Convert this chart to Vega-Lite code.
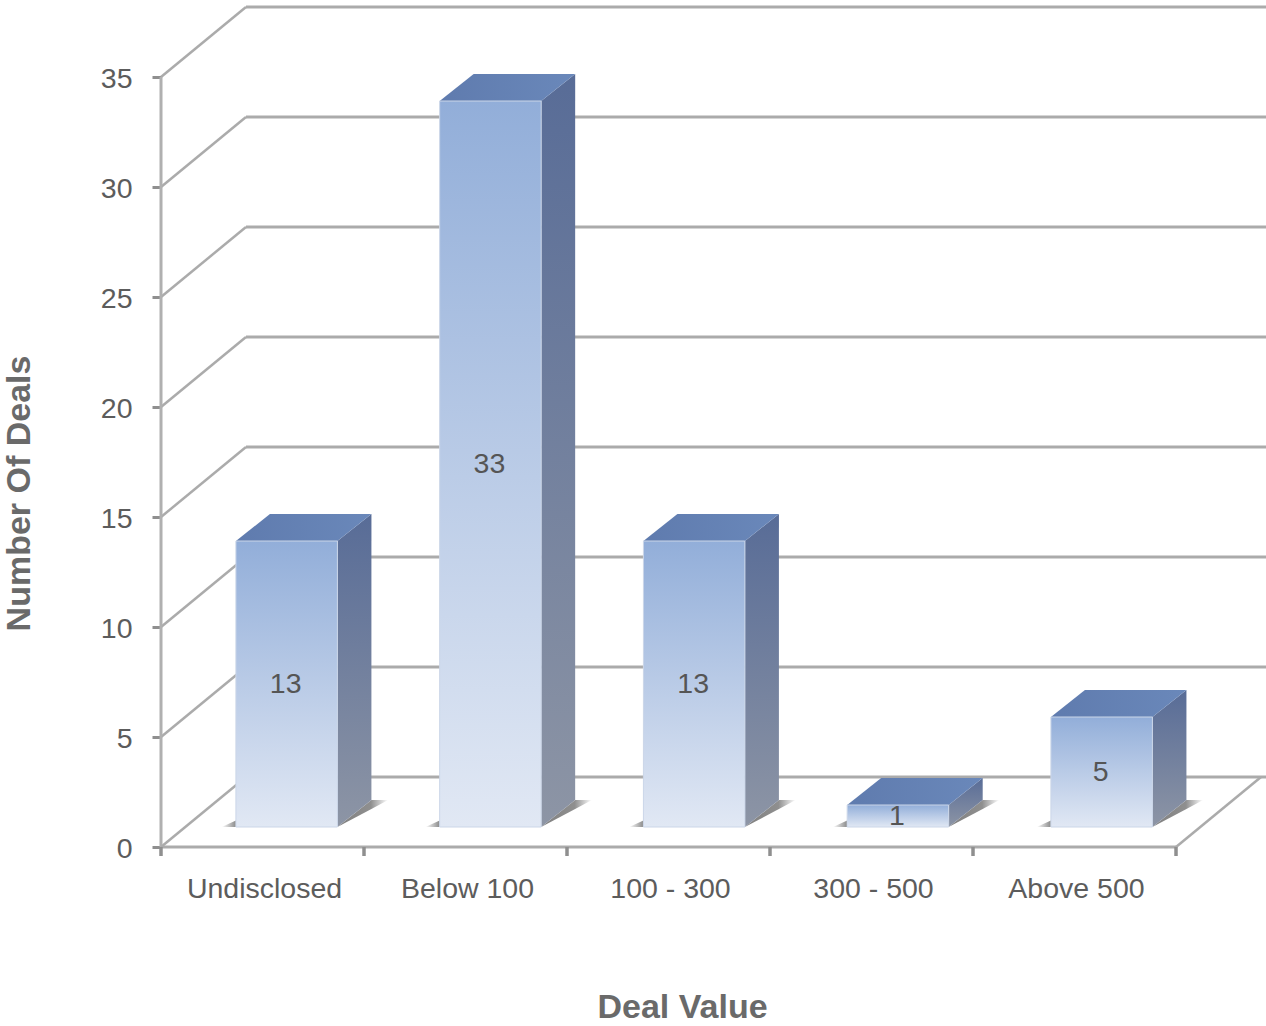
{
"$schema":"https://vega.github.io/schema/vega-lite/v6.json",
"width":1105,"height":840,
"autosize":{"type":"none"},
"padding":{"left":161,"top":7,"right":0,"bottom":179},
"background":"white",
"config":{"view":{"stroke":null},"font":"Liberation Sans"},
"datasets":{
"ticks":[{"v":0},{"v":5},{"v":10},{"v":15},{"v":20},{"v":25},{"v":30},{"v":35}],
"bars":[{"category":"Undisclosed","deals":13},{"category":"Below 100","deals":33},{"category":"100 - 300","deals":13},{"category":"300 - 500","deals":1},{"category":"Above 500","deals":5}]
},
"data":{"name":"bars"},
"transform":[
{"window":[{"op":"row_number","as":"idx"}]},
{"calculate":"(datum.idx-1)*1.0037+0.369","as":"x0"},
{"calculate":"datum.x0+0.5","as":"x1"},
{"calculate":"datum.deals+0.909","as":"top"},
{"calculate":"0.909","as":"base"}
],
"resolve":{"scale":{"x":"independent"},"axis":{"x":"independent"}},
"layer":[
{"data":{"name":"ticks"},"mark":{"type":"rule","color":"#ABABAB","strokeWidth":2.5,"y2Offset":-70},
"encoding":{"x":{"datum":0,"type":"quantitative","scale":{"domain":[0,5.4433]},"axis":null},"x2":{"datum":0.4187},
"y":{"field":"v","type":"quantitative","scale":{"domain":[0,38.1818],"nice":false,"zero":false},
"axis":{"values":[0,5,10,15,20,25,30,35],"grid":false,"domain":false,"tickColor":"#8F8F8F","tickWidth":3,"tickSize":9,"labelFontSize":28.5,"labelColor":"#5C5C5C","labelPadding":20,"labelBaseline":"middle","labelOffset":1.5,
"title":"Number Of Deals","titleFontSize":34,"titleFontWeight":"bold","titleColor":"#6A6A6A","titleX":-142,"titleY":486,"titleAnchor":"middle","titleBaseline":"middle","titleAngle":-90}},
"y2":{"field":"v"}}},
{"data":{"name":"ticks"},"mark":{"type":"rule","color":"#ABABAB","strokeWidth":3,"yOffset":-70,"y2Offset":-70},
"encoding":{"x":{"datum":0.4187,"type":"quantitative","scale":{"domain":[0,5.4433]},"axis":null},"x2":{"datum":5.4433},
"y":{"field":"v","type":"quantitative"},"y2":{"field":"v"}}},
{"data":{"values":[{"v":0,"w":35}]},"mark":{"type":"rule","color":"#B0B0B0","strokeWidth":3},
"encoding":{"x":{"datum":0,"type":"quantitative","scale":{"domain":[0,5.4433]},"axis":null},
"y":{"field":"v","type":"quantitative"},"y2":{"field":"w"}}},
{"data":{"values":[{"v":0}]},"mark":{"type":"rule","color":"#ABABAB","strokeWidth":3},
"encoding":{"x":{"datum":0,"type":"quantitative","scale":{"domain":[0,5.4433]},"axis":null},"x2":{"datum":5},
"y":{"field":"v","type":"quantitative"}}},
{"data":{"values":[{"v":0}]},"mark":{"type":"rule","color":"#ABABAB","strokeWidth":2.5,"y2Offset":-70},
"encoding":{"x":{"datum":5,"type":"quantitative","scale":{"domain":[0,5.4433]},"axis":null},"x2":{"datum":5.4187},
"y":{"field":"v","type":"quantitative"},"y2":{"field":"v"}}},
{"data":{"values":[{"p":0},{"p":1},{"p":2},{"p":3},{"p":4},{"p":5}]},"mark":{"type":"rule","color":"#8F8F8F","strokeWidth":3.5,"y2Offset":9},
"encoding":{"x":{"field":"p","type":"quantitative","scale":{"domain":[0,5.4433]},"axis":null},
"y":{"datum":0,"type":"quantitative"},"y2":{"datum":0}}},
{"transform":[{"calculate":"[0,1,2]","as":"t"},{"flatten":["t"]},
{"calculate":"datum.x1+[0,0.1675,0.25][datum.t]","as":"sx"},
{"calculate":"0.909+[0,1.227,1.227][datum.t]","as":"sy"},
{"calculate":"0.909+[0,0.82,1.227][datum.t]","as":"sy2"}],
"mark":{"type":"area","color":{"x1":0,"y1":0,"x2":1,"y2":0,"gradient":"linear","stops":[{"offset":0,"color":"#808080"},{"offset":0.66,"color":"#8F8F8F"},{"offset":1,"color":"#FFFFFF"}]}},
"encoding":{"detail":{"field":"category"},"x":{"field":"sx","type":"quantitative","scale":{"domain":[0,5.4433]},"axis":null},"y":{"field":"sy","type":"quantitative"},"y2":{"field":"sy2"}}},
{"transform":[{"calculate":"[0,1]","as":"t"},{"flatten":["t"]},
{"calculate":"datum.x0-0.07+0.07*datum.t","as":"sx"},
{"calculate":"0.909+0.3*datum.t","as":"sy"},
{"calculate":"0.909","as":"sy2"}],
"mark":{"type":"area","color":{"x1":0,"y1":0,"x2":1,"y2":0,"gradient":"linear","stops":[{"offset":0,"color":"#FFFFFF"},{"offset":1,"color":"#8A8A8A"}]}},
"encoding":{"detail":{"field":"category"},"x":{"field":"sx","type":"quantitative","scale":{"domain":[0,5.4433]},"axis":null},"y":{"field":"sy","type":"quantitative"},"y2":{"field":"sy2"}}},
{"transform":[{"calculate":"[0,1]","as":"t"},{"flatten":["t"]},
{"calculate":"datum.x1+0.1675*datum.t","as":"sx"},
{"calculate":"datum.top+1.227*datum.t","as":"sy"},
{"calculate":"0.909+1.227*datum.t","as":"sy2"}],
"mark":{"type":"area","color":{"x1":0,"y1":0,"x2":0,"y2":1,"gradient":"linear","stops":[{"offset":0,"color":"#586C97"},{"offset":1,"color":"#8D95A5"}]}},
"encoding":{"detail":{"field":"category"},"x":{"field":"sx","type":"quantitative","scale":{"domain":[0,5.4433]},"axis":null},"y":{"field":"sy","type":"quantitative"},"y2":{"field":"sy2"}}},
{"transform":[{"calculate":"[0,1,2,3]","as":"t"},{"flatten":["t"]},
{"calculate":"datum.x0+[0,0.1675,0.5,0.6675][datum.t]","as":"sx"},
{"calculate":"datum.top+[0,1.227,1.227,1.227][datum.t]","as":"sy"},
{"calculate":"datum.top+[0,0,0,1.227][datum.t]","as":"sy2"}],
"mark":{"type":"area","color":{"x1":0,"y1":0,"x2":1,"y2":0,"gradient":"linear","stops":[{"offset":0,"color":"#5F7BAE"},{"offset":1,"color":"#6A88BA"}]}},
"encoding":{"detail":{"field":"category"},"x":{"field":"sx","type":"quantitative","scale":{"domain":[0,5.4433]},"axis":null},"y":{"field":"sy","type":"quantitative"},"y2":{"field":"sy2"}}},
{"mark":{"type":"rect","stroke":"#CBD6E8","strokeWidth":1,"color":{"x1":0,"y1":0,"x2":0,"y2":1,"gradient":"linear","stops":[{"offset":0,"color":"#92AED9"},{"offset":1,"color":"#E1E8F4"}]}},
"encoding":{"x":{"field":"x0","type":"quantitative","scale":{"domain":[0,5.4433]},"axis":null},"x2":{"field":"x1"},
"y":{"field":"top","type":"quantitative"},"y2":{"field":"base"}}},
{"mark":{"type":"bar","opacity":0},
"encoding":{"x":{"field":"category","type":"nominal","sort":null,"scale":{"type":"band","domain":["Undisclosed","Below 100","100 - 300","300 - 500","Above 500"],"range":[0,1015],"paddingInner":0.5,"paddingOuter":0.25},
"axis":{"orient":"bottom","ticks":false,"domain":false,"grid":false,"labelAngle":0,"labelOffset":2,"labelFontSize":28.5,"labelColor":"#5C5C5C","labelPadding":41,"labelBaseline":"middle","labelAlign":"center","title":"Deal Value","titleFontSize":34,"titleFontWeight":"bold","titleColor":"#6A6A6A","titleX":521,"titleY":160,"titleAnchor":"middle","titleBaseline":"middle"}},
"y":{"field":"deals","type":"quantitative"},"y2":{"datum":0}}},
{"transform":[{"calculate":"datum.x0+0.245","as":"xc"},{"calculate":"0.909+datum.deals/2","as":"ym"}],
"mark":{"type":"text","fontSize":28.5,"color":"#555555","baseline":"middle"},
"encoding":{"x":{"field":"xc","type":"quantitative","scale":{"domain":[0,5.4433]},"axis":null},"y":{"field":"ym","type":"quantitative"},"text":{"field":"deals","type":"quantitative"}}}
]
}
